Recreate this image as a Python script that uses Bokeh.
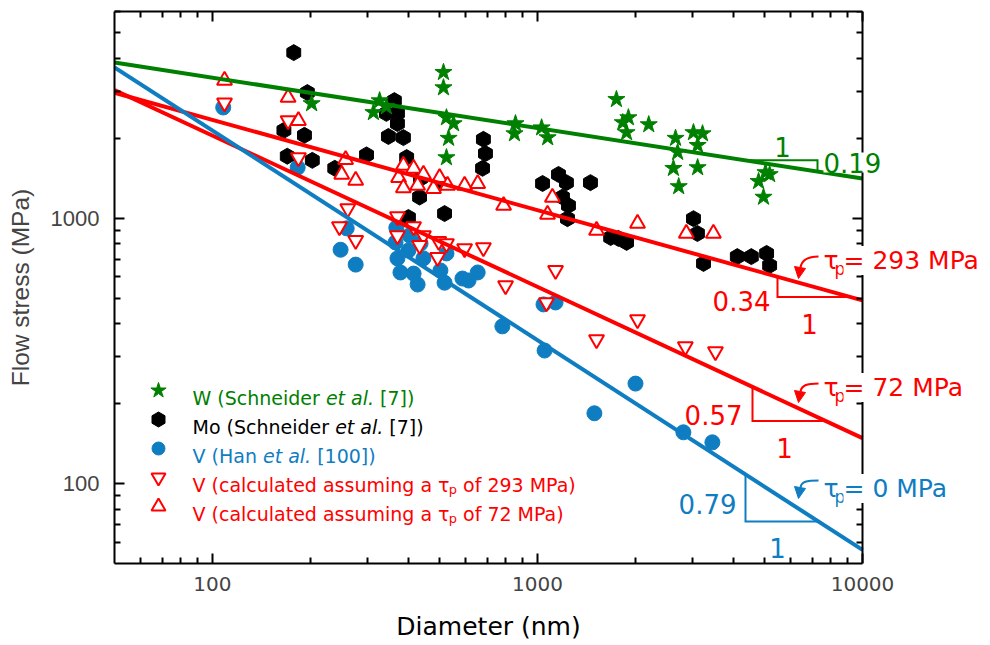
import math
import numpy as np
from bokeh.plotting import figure
from bokeh.models import LogAxis, FixedTicker, Label, Range1d, NumeralTickFormatter, Title
from bokeh.embed import file_html
from bokeh.resources import INLINE

# ---------------- data ----------------
# W micropillars (Schneider et al.)
w_diam = [202, 313, 327, 343, 514, 514, 525, 552, 533, 525, 856, 850, 1030, 1075,
          1750, 1830, 1905, 1880, 2200, 2660, 3020, 3220, 3110, 2700, 2620, 3110,
          2720, 5030, 4790, 5180, 4960]
w_stress = [2700, 2500, 2770, 2630, 3540, 3100, 2390, 2270, 2000, 1690, 2270, 2080,
            2190, 2010, 2800, 2290, 2390, 2100, 2250, 2000, 2100, 2080, 1880, 1770,
            1540, 1550, 1315, 1485, 1375, 1460, 1200]

# Mo micropillars (Schneider et al.)
mo_diam = [178, 196, 166, 192, 170, 203, 238, 298, 363, 343, 371, 371, 348, 387, 396,
           434, 518, 437, 503, 401, 682, 692, 678, 1037, 1161, 1228, 1456, 1194, 1246,
           1237, 1680, 1775, 1880, 3020, 3106, 3243, 4120, 4550, 5070, 5180]
mo_stress = [4200, 2970, 2140, 2050, 1710, 1650, 1540, 1730, 2770, 2480, 2480, 2270,
             2030, 2010, 1690, 1200, 1040, 1410, 1360, 1005, 1980, 1750, 1540, 1350,
             1460, 1360, 1360, 1200, 1115, 995, 845, 838, 810, 995, 875, 675, 716,
             716, 736, 663]

# V micropillars (Han et al.)
vh_diam = [108, 183, 259, 248, 276, 368, 366, 401, 371, 379, 416, 428, 446, 503, 518,
           525, 588, 614, 655, 1044, 1137, 780, 1052, 2003, 1497, 2812, 3453, 404, 437]
vh_stress = [2610, 1550, 915, 760, 668, 920, 810, 755, 705, 624, 618, 562, 705, 635,
             571, 736, 592, 582, 624, 473, 481, 391, 317, 238, 184, 156, 143, 860, 802]

# V, calculated with tau_p = 293 MPa
v293_diam = [109, 171, 184, 261, 246, 276, 371, 416, 371, 446, 434, 497, 525, 493,
             597, 682, 798, 1137, 1066, 2032, 1520, 2851, 3529]
v293_stress = [2720, 2330, 1690, 1087, 929, 824, 1014, 929, 859, 859, 789, 817, 802,
               711, 767, 774, 557, 635, 481, 415, 349, 328, 314]

# V, calculated with tau_p = 72 MPa
v72_diam = [109, 171, 184, 257, 250, 276, 387, 416, 374, 446, 500, 387, 428, 479,
            529, 597, 655, 787, 1112, 1074, 1520, 2032, 2871, 3478]
v72_stress = [3300, 2845, 2330, 1660, 1460, 1386, 1580, 1540, 1420, 1460, 1420, 1300,
              1327, 1292, 1327, 1327, 1349, 1115, 1196, 1032, 898, 955, 875, 875]

# power-law fits: stress = A * d^(-n)
fit_prefactor = [8110, 11220, 28250, 81300]
fit_exponent = [0.19, 0.34, 0.57, 0.79]
tau_values = [293, 72, 0]          # tau_p for fits 1..3

x_ticks = [100, 1000, 10000]
y_ticks = [100, 1000]
x_minor = [60, 70, 80, 90] + [k * 100 for k in range(2, 10)] + [k * 1000 for k in range(2, 10)]
y_minor = [60, 70, 80, 90] + [k * 100 for k in range(2, 10)] + [k * 1000 for k in range(2, 7)]

# ---------------- style ----------------
GREEN = "#008000"
BLUE = "#0f7dc2"
RED = "#ff0000"
SANS = "DejaVu Sans"
ARIAL = "Liberation Sans"

W, H = 990, 645
BL, BT, BB = 114, 11, 82
BOX_R = 862                      # right edge of the axes box (x = 10000)
XMIN, XMAX, YMIN, YMAX = 50, 10000, 50, 6000
FH = H - BT - BB
FW = W - BL                      # frame runs to the canvas edge so labels can overhang the box
DEC_X = (BOX_R - BL) / math.log10(XMAX / XMIN)
XVIEW = 10 ** (math.log10(XMIN) + FW / DEC_X)


def at(px, py):
    """Canvas pixel position -> data coordinates on the log axes."""
    lx = math.log10(XMIN) + (px - BL) / DEC_X
    ly = math.log10(YMIN) + (BT + FH - py) / FH * math.log10(YMAX / YMIN)
    return 10 ** lx, 10 ** ly


# DejaVu Sans advance widths (em)
ADV = {' ': .318, '(': .390, ')': .390, '[': .390, ']': .390, '.': .318, '=': .838,
       'M': .863, 'P': .603, 'S': .635, 'V': .684, 'W': .989, 'H': .752, 'D': .770,
       'a': .613, 'c': .550, 'd': .635, 'e': .615, 'f': .352, 'g': .635, 'h': .634,
       'i': .278, 'l': .278, 'm': .974, 'n': .634, 'o': .612, 'p': .635, 'r': .411,
       's': .521, 't': .392, 'u': .634, 'τ': .56}
for ch in "0123456789":
    ADV[ch] = .636


def text_w(s, size):
    return sum(ADV.get(c, .6) for c in s) * size


p = figure(width=W, height=H, x_axis_type="log", y_axis_type="log",
           x_range=Range1d(XMIN, XVIEW), y_range=Range1d(YMIN, YMAX),
           output_backend="svg", toolbar_location=None,
           min_border_left=BL, min_border_right=0, min_border_top=BT,
           min_border_bottom=BB)
p.title.visible = False
p.grid.visible = False
p.outline_line_color = None
p.background_fill_color = "white"
p.border_fill_color = "white"


def style_axis(ax, ticks, minor):
    ax.ticker = FixedTicker(ticks=ticks, minor_ticks=minor)
    ax.axis_line_width = 2
    ax.axis_line_color = "black"
    ax.major_tick_line_width = 2
    ax.minor_tick_line_width = 2
    ax.major_tick_in = 10
    ax.major_tick_out = 0
    ax.minor_tick_in = 6
    ax.minor_tick_out = 0


xa = p.xaxis[0]
style_axis(xa, x_ticks, x_minor)
xa.bounds = (XMIN, XMAX)
xa.formatter = NumeralTickFormatter(format="0")
xa.major_label_text_font = SANS
xa.major_label_text_font_size = "20px"
xa.major_label_standoff = 13

# x title, centred under the axes box rather than the whole frame;
# a blank strip above it sets its distance from the tick labels
XT_FS = 25
xt = "Diameter (nm)"
p.add_layout(Title(text="\u00a0", text_font_size="12px", standoff=0), "below")
p.add_layout(Title(text=xt, align="left",
                   offset=(BL + BOX_R) / 2 - text_w(xt, XT_FS) / 2 - BL,
                   text_font=SANS, text_font_size=f"{XT_FS}px",
                   text_font_style="normal", text_color="black", standoff=0), "below")

ya = p.yaxis[0]
style_axis(ya, y_ticks, y_minor)
ya.formatter = NumeralTickFormatter(format="0")
ya.major_label_text_font = ARIAL
ya.major_label_text_font_size = "22px"
ya.major_label_standoff = 15
ya.axis_label = "Flow stress (MPa)"
ya.axis_label_text_font = ARIAL
ya.axis_label_text_font_size = "24.5px"
ya.axis_label_text_font_style = "normal"
ya.axis_label_standoff = 14

top = LogAxis()
style_axis(top, x_ticks, x_minor)
top.bounds = (XMIN, XMAX)
right = LogAxis(fixed_location=XMAX)
style_axis(right, y_ticks, y_minor)
for ax in (top, right):
    ax.major_label_text_font_size = "0px"
    ax.major_label_text_alpha = 0
    ax.major_label_standoff = 0
p.add_layout(top, "above")
p.add_layout(right, "right")

# ---------------- markers ----------------
p.scatter(mo_diam, mo_stress, marker="hex", angle=math.pi / 2, size=16,
          fill_color="black", line_color="black")
p.scatter(w_diam, w_stress, marker="star", size=18, fill_color=GREEN, line_color=GREEN)
p.scatter(vh_diam, vh_stress, marker="circle", size=15, fill_color=BLUE, line_color=BLUE)
p.scatter(v293_diam, v293_stress, marker="inverted_triangle", size=15,
          fill_color="white", line_color=RED, line_width=2)
p.scatter(v72_diam, v72_stress, marker="triangle", size=15,
          fill_color="white", line_color=RED, line_width=2)

# ---------------- fit lines ----------------
fit_colors = [GREEN, RED, RED, BLUE]
d_line = np.array([XMIN, XMAX], dtype=float)


def fit(i, d):
    return fit_prefactor[i] * np.asarray(d, dtype=float) ** (-fit_exponent[i])


for i, c in enumerate(fit_colors):
    p.line(d_line, fit(i, d_line), line_color=c, line_width=4)

# ---------------- slope triangles ----------------
tri_px = [(744, 817), (777, 850), (752, 825), (745, 818)]
for i, (pa, pb) in enumerate(tri_px):
    da, db = at(pa, 0)[0], at(pb, 0)[0]
    sa, sb = float(fit(i, da)), float(fit(i, db))
    if i == 0:
        xs, ys = [da, db, db], [sa, sa, sb]
    else:
        xs, ys = [da, da, db], [sa, sb, sb]
    p.line(xs, ys, line_color=fit_colors[i], line_width=2, line_join="miter")


def label(px, py, text, color, size, align="left", style="normal", font=SANS, bg=None):
    x, y = at(px, py)
    kw = {}
    if bg:
        kw = dict(background_fill_color=bg, background_fill_alpha=1.0)
    p.add_layout(Label(x=x, y=y, text=text, text_color=color, text_font=font,
                       text_font_size=f"{size}px", text_font_style=style,
                       text_align=align, text_baseline="alphabetic", **kw))


# exponent and run labels
run_pos = [(782, 146), (809, 323), (784, 447), (777, 547)]
exp_pos = [(823, 162, "left"), (770, 300, "right"), (742, 414, "right"), (736, 503, "right")]
for i, c in enumerate(fit_colors):
    ex, ey, al = exp_pos[i]
    label(ex, ey, f"{fit_exponent[i]:.2f}", c, 26, align=al, bg="white" if i == 0 else None)
    rx, ry = run_pos[i]
    label(rx, ry, "1", c, 26, align="center")

# tau_p labels with curved arrows
tau_base = [260, 387, 488]
arrow_start_dy = [-4, -4, -8]
arrow_tip_dy = [18, 15, 10]
for k, tau in enumerate(tau_values):
    c = fit_colors[k + 1]
    b = tau_base[k]
    label(823, b, "τ", c, 25)
    label(834, b + 8, "p", c, 17)
    label(843, b, f"= {tau} MPa", c, 25, bg="white")
    sx, sy = 818, b + arrow_start_dy[k]
    tx, ty = 798, b + arrow_tip_dy[k]
    ex_, ey_ = tx + 2, ty - 11
    P0, C0, C1, P1 = at(sx, sy), at(sx - 12, sy), at(ex_ + 1, ey_ - 6), at(ex_, ey_)
    p.bezier(x0=[P0[0]], y0=[P0[1]], x1=[P1[0]], y1=[P1[1]],
             cx0=[C0[0]], cy0=[C0[1]], cx1=[C1[0]], cy1=[C1[1]],
             line_color=c, line_width=2)
    head = [at(tx, ty), at(tx - 4, ty - 12), at(tx + 7, ty - 10)]
    p.patch([h[0] for h in head], [h[1] for h in head], fill_color=c, line_color=c)

# ---------------- legend ----------------
legend_rows = [
    (dict(marker="star", size=16, fill_color=GREEN, line_color=GREEN), GREEN,
     [("W (Schneider ", "normal"), ("et al.", "italic"), (" [7])", "normal")]),
    (dict(marker="hex", angle=math.pi / 2, size=15, fill_color="black", line_color="black"), "black",
     [("Mo (Schneider ", "normal"), ("et al.", "italic"), (" [7])", "normal")]),
    (dict(marker="circle", size=13, fill_color=BLUE, line_color=BLUE), BLUE,
     [("V (Han ", "normal"), ("et al.", "italic"), (" [100])", "normal")]),
    (dict(marker="inverted_triangle", size=14, fill_color="white", line_color=RED, line_width=2), RED,
     [("V (calculated assuming a ", "normal"), ("τ", "normal"), ("p", "sub"),
      (f" of {tau_values[0]} MPa)", "normal")]),
    (dict(marker="triangle", size=14, fill_color="white", line_color=RED, line_width=2), RED,
     [("V (calculated assuming a ", "normal"), ("τ", "normal"), ("p", "sub"),
      (f" of {tau_values[1]} MPa)", "normal")]),
]
LEG_FS = 19
for r, (mk, col, pieces) in enumerate(legend_rows):
    base = 397 + 29 * r
    kx, ky = at(158, base - 7)
    p.scatter([kx], [ky], **mk)
    cur = 192
    for txt, st in pieces:
        size = 13 if st == "sub" else LEG_FS
        dy = 5 if st == "sub" else 0
        lead = len(txt) - len(txt.lstrip())
        label(cur + text_w(txt[:lead], size), base + dy, txt.strip(), col, size,
              style="italic" if st == "italic" else "normal")
        cur += text_w(txt, size)

open("out.html", "w").write(file_html(p, INLINE))
